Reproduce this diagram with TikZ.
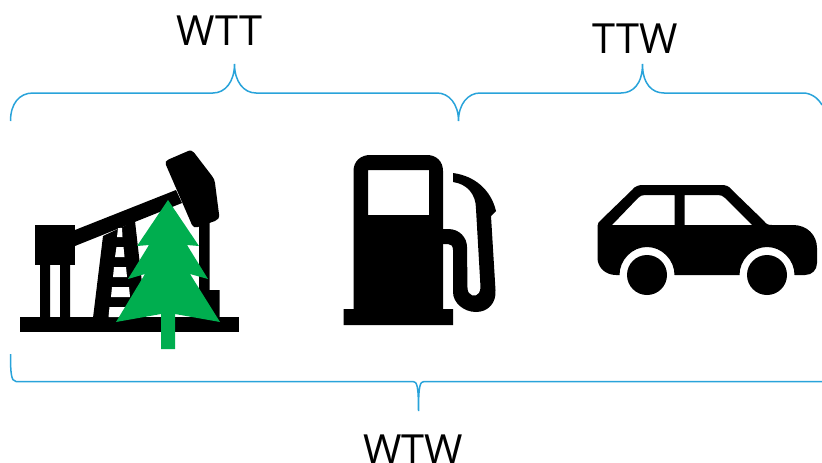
\documentclass[tikz,border=0pt]{standalone}
\usepackage{fontspec}
\setmainfont{Open Sans}
\definecolor{brace}{HTML}{29A3DA}
\definecolor{tree}{HTML}{00AE4F}
\tikzset{
  x=1pt,y=-1pt,
  bracket/.style={draw=brace,line width=1.5pt,line cap=butt},
  label/.style={font=\fontsize{41.5}{44}\selectfont,text=black,inner sep=0pt,anchor=base},
  blk/.style={fill=black,draw=none},
  hole/.style={fill=white,draw=none},
  leaf/.style={fill=tree,draw=none}
}
\begin{document}
\begin{tikzpicture}
\useasboundingbox (0,0) rectangle (822,463);
% brackets
\draw[bracket] (10.5,121) .. controls (10.5,104) and (19,93) .. (33,93) -- (213,93) .. controls (225,93) and (234.5,82) .. (234.5,64) .. controls (234.5,82) and (244,93) .. (256,93) -- (437,93) .. controls (449,93) and (458.5,104) .. (458.5,121) .. controls (458.5,104) and (468,93) .. (480,93) -- (621,93) .. controls (633,93) and (642.5,84) .. (642.5,64) .. controls (642.5,84) and (652,93) .. (664,93) -- (803,93) .. controls (811,93) and (818,98) .. (822,105);
\draw[bracket] (10.5,354) .. controls (10.5,372) and (11,381.5) .. (16,381.5) -- (413,381.5) .. controls (417,381.5) and (418.5,386) .. (418.5,411) .. controls (418.5,386) and (420,381.5) .. (424,381.5) -- (822,381.5);
% labels
\node[label] (wtt) at (219.5,45.5) {WTT};
\node[label] (ttw) at (635,53) {TTW};
\node[label] (wtw) at (413,464) {WTW};
% pump jack
\fill[blk] (20,317) rectangle (239,332);
\fill[blk] (35,225) rectangle (75,265);
\fill[blk] (40,265) rectangle (50,318) (60,265) rectangle (70,318);
\fill[blk] (75,230) -- (176,190) -- (182,203) -- (75,246) -- cycle;
\fill[blk] (103,236) -- (135,221) -- (146,318) -- (93,318) -- cycle;
\fill[hole] (118,228) -- (122,228) -- (122.5,237) -- (117,237) -- cycle;
\fill[hole] (116.5,247) -- (123.5,247) -- (124.5,257) -- (115,257) -- cycle;
\fill[hole] (114,267) -- (126,267) -- (127,277) -- (113,277) -- cycle;
\fill[hole] (112,287) -- (129,287) -- (130,297) -- (111,297) -- cycle;
\fill[hole] (109.5,307) -- (132,307) -- (133,317) -- (108.5,317) -- cycle;
\fill[blk] (199,215) rectangle (209.5,318) (199,290) rectangle (219.5,318);
\fill[blk] (168.5,159.5) -- (187,151.5) .. controls (190,150) and (192,150) .. (194,152.5) -- (212,176) .. controls (214,178.5) and (214.5,180) .. (215,183) -- (219,214) .. controls (219.5,218) and (218,220) .. (215,221) -- (198,227) .. controls (195,228) and (193,227) .. (192,225) -- (166,165) .. controls (165,162) and (166,160.5) .. (168.5,159.5) -- cycle;
% tree
\fill[leaf] (168,200) -- (199,246) -- (187,245) -- (208,279) -- (190,274) -- (220,322) -- (175,314) -- (175,349) -- (161,349) -- (161,314) -- (116,322) -- (145,274) -- (128,279) -- (149,245) -- (137,246) -- cycle;
% fuel pump
\fill[blk,even odd rule] (353.5,320) -- (353.5,171) .. controls (353.5,161) and (361,155) .. (370,155) -- (427,155) .. controls (436,155) and (443,161) .. (443,171) -- (443,309) -- (453,309) -- (453,325) -- (343.5,325) -- (343.5,309) -- (353.5,309) -- cycle
  (368,170) rectangle (429,215);
\fill[blk] (443,229) -- (448,229) .. controls (460,229) and (467,238) .. (467,247) -- (467.5,288) .. controls (467.5,296) and (476,298) .. (479,293) .. controls (480,291) and (480.5,289) .. (480.5,287) -- (476,209) .. controls (476,194) and (467,184) .. (453,182) -- (453,173) .. controls (475,176) and (491,190) .. (496,211) -- (491,216) -- (495.5,290) .. controls (496.5,303) and (488,312) .. (476,312) .. controls (464,312) and (453,303) .. (453,292) -- (453,250) .. controls (453,246) and (451,244) .. (448,244) -- (443,244) -- cycle;
% car
\fill[blk,even odd rule] (597.5,226) .. controls (597.5,223) and (599,222) .. (601,220) -- (632,190) .. controls (635,186) and (639,185) .. (643,185) -- (721,185) .. controls (726,185) and (729,186) .. (732,190) -- (764,221) .. controls (766,224) and (768,225) .. (772,225) -- (793,225) .. controls (807,225) and (817,235) .. (817,248) -- (817,263) .. controls (817,270) and (812,275) .. (805,275) -- (794.5,275) .. controls (794.5,260) and (782,247) .. (767,247) .. controls (752,247) and (739.5,260) .. (739.5,275) -- (674.5,275) .. controls (674.5,260) and (662,247) .. (647,247) .. controls (632,247) and (619.5,260) .. (619.5,275) -- (616,275) .. controls (605,275) and (597.5,267) .. (597.5,258) -- cycle
  (612,225) -- (638,198) .. controls (640,196) and (642,195) .. (645,195) -- (674.5,195) -- (674.5,225) -- cycle
  (684.5,195) -- (718,195) .. controls (721,195) and (723,196) .. (725,198) -- (752,225) -- (684.5,225) -- cycle;
\fill[blk] (647,275) circle (20);
\fill[blk] (767,275) circle (20);
\end{tikzpicture}
\end{document}
